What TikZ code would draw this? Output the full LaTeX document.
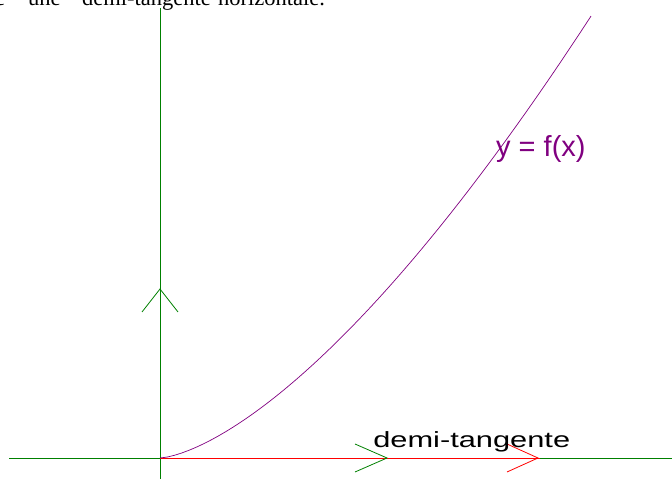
\documentclass[tikz,border=0pt]{standalone}
\usepackage{fontspec}
\setmainfont{Liberation Serif}
\newfontfamily\arialfont{Liberation Sans}
\definecolor{axisgreen}{HTML}{008000}
\definecolor{curvepurple}{HTML}{800080}
\definecolor{tanred}{HTML}{FF0000}
\begin{document}
\begin{tikzpicture}[x=1pt,y=1pt,
  axis/.style={draw=axisgreen,line width=0.8pt},
  tanline/.style={draw=tanred,line width=0.8pt},
  curveline/.style={draw=curvepurple,line width=0.7pt},
  toptext/.style={anchor=base west,inner sep=0pt,font=\fontsize{22.5}{26}\selectfont},
  lbl/.style={anchor=base west,inner sep=0pt}]
\useasboundingbox (0,0) rectangle (672,479);
\begin{scope}
\clip (0,0) rectangle (672,479);
% top text (cut off at the top edge, as in the reference)
\node[toptext] (t1) at (-5,473.5) {e};
\node[toptext] (t2) at (28,473.5) {une};
\node[toptext] (t3) at (82,473.5) {demi-tangente};
\node[toptext] (t4) at (218,473.5) {horizontale.};
% coordinates
\coordinate (O) at (160,21);
\coordinate (xl) at (9,21);
\coordinate (xr) at (672,21);
\coordinate (yt) at (160,471);
\coordinate (yb) at (160,0);
\coordinate (tend) at (540,21);
% axes
\draw[axis] (xl) -- (xr);
\draw[axis] (yb) -- (yt);
% tangent
\draw[tanline] (O) -- (tend);
% arrowheads
\coordinate (ua) at (160,190);
\coordinate (ual) at (142,167);
\coordinate (uar) at (178,167);
\draw[axis] (ual) -- (ua) -- (uar);
\coordinate (ra) at (387,21);
\coordinate (ral) at (355,35);
\coordinate (rar) at (355,7);
\draw[axis] (ral) -- (ra) -- (rar);
\coordinate (ta) at (538,21);
\coordinate (tal) at (507,35);
\coordinate (tar) at (507,7);
\draw[tanline] (tal) -- (ta) -- (tar);
% curve
\draw[curveline] plot[domain=0:431,samples=60] ({160+\x},{21+0.0494*(\x)^1.5});
% labels
\node[lbl,text=curvepurple,font=\arialfont\fontsize{29}{32}\selectfont] (fx) at (496,322) {y = f(x)};
\node[lbl,xscale=1.4,font=\arialfont\fontsize{22}{25}\selectfont] (dt) at (373,31) {demi-tangente};
\end{scope}
\end{tikzpicture}
\end{document}
